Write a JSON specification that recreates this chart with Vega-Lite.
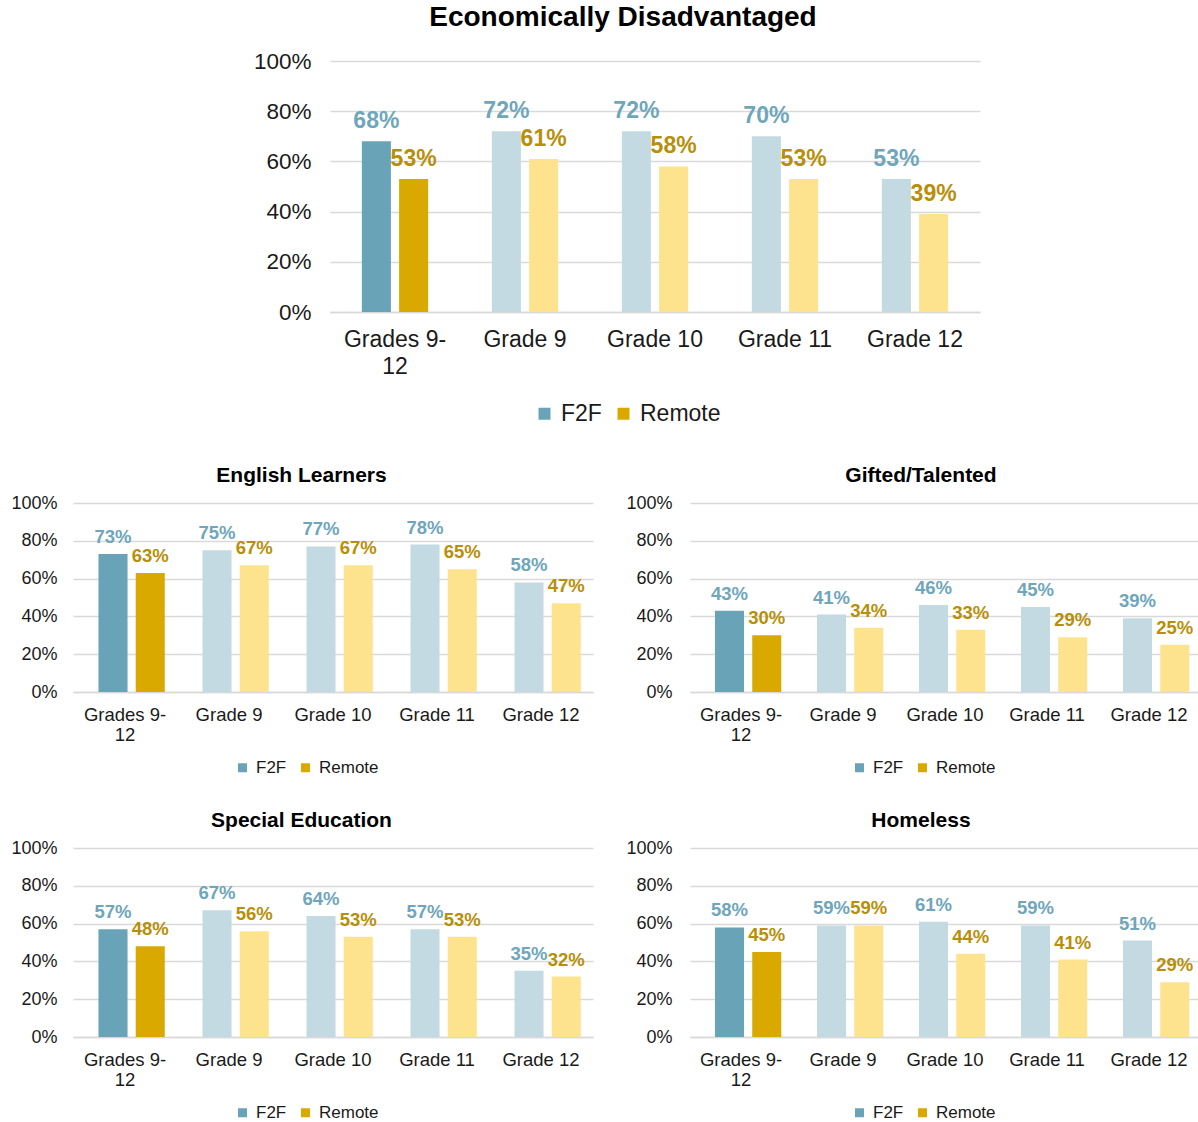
{
  "$schema": "https://vega.github.io/schema/vega-lite/v6.json",
  "padding": {"left": 10, "top": 4, "right": 0, "bottom": 0},
  "background": "white",
  "config": {"view": {"stroke": null}, "font": "Liberation Sans"},
  "datasets": {
    "rates": [
      {"chart": "Economically Disadvantaged", "grade": "Grades 9-12", "mode": "F2F", "value": 0.68},
      {"chart": "Economically Disadvantaged", "grade": "Grades 9-12", "mode": "Remote", "value": 0.53},
      {"chart": "Economically Disadvantaged", "grade": "Grade 9", "mode": "F2F", "value": 0.72},
      {"chart": "Economically Disadvantaged", "grade": "Grade 9", "mode": "Remote", "value": 0.61},
      {"chart": "Economically Disadvantaged", "grade": "Grade 10", "mode": "F2F", "value": 0.72},
      {"chart": "Economically Disadvantaged", "grade": "Grade 10", "mode": "Remote", "value": 0.58},
      {"chart": "Economically Disadvantaged", "grade": "Grade 11", "mode": "F2F", "value": 0.70},
      {"chart": "Economically Disadvantaged", "grade": "Grade 11", "mode": "Remote", "value": 0.53},
      {"chart": "Economically Disadvantaged", "grade": "Grade 12", "mode": "F2F", "value": 0.53},
      {"chart": "Economically Disadvantaged", "grade": "Grade 12", "mode": "Remote", "value": 0.39},
      {"chart": "English Learners", "grade": "Grades 9-12", "mode": "F2F", "value": 0.73},
      {"chart": "English Learners", "grade": "Grades 9-12", "mode": "Remote", "value": 0.63},
      {"chart": "English Learners", "grade": "Grade 9", "mode": "F2F", "value": 0.75},
      {"chart": "English Learners", "grade": "Grade 9", "mode": "Remote", "value": 0.67},
      {"chart": "English Learners", "grade": "Grade 10", "mode": "F2F", "value": 0.77},
      {"chart": "English Learners", "grade": "Grade 10", "mode": "Remote", "value": 0.67},
      {"chart": "English Learners", "grade": "Grade 11", "mode": "F2F", "value": 0.78},
      {"chart": "English Learners", "grade": "Grade 11", "mode": "Remote", "value": 0.65},
      {"chart": "English Learners", "grade": "Grade 12", "mode": "F2F", "value": 0.58},
      {"chart": "English Learners", "grade": "Grade 12", "mode": "Remote", "value": 0.47},
      {"chart": "Gifted/Talented", "grade": "Grades 9-12", "mode": "F2F", "value": 0.43},
      {"chart": "Gifted/Talented", "grade": "Grades 9-12", "mode": "Remote", "value": 0.30},
      {"chart": "Gifted/Talented", "grade": "Grade 9", "mode": "F2F", "value": 0.41},
      {"chart": "Gifted/Talented", "grade": "Grade 9", "mode": "Remote", "value": 0.34},
      {"chart": "Gifted/Talented", "grade": "Grade 10", "mode": "F2F", "value": 0.46},
      {"chart": "Gifted/Talented", "grade": "Grade 10", "mode": "Remote", "value": 0.33},
      {"chart": "Gifted/Talented", "grade": "Grade 11", "mode": "F2F", "value": 0.45},
      {"chart": "Gifted/Talented", "grade": "Grade 11", "mode": "Remote", "value": 0.29},
      {"chart": "Gifted/Talented", "grade": "Grade 12", "mode": "F2F", "value": 0.39},
      {"chart": "Gifted/Talented", "grade": "Grade 12", "mode": "Remote", "value": 0.25},
      {"chart": "Special Education", "grade": "Grades 9-12", "mode": "F2F", "value": 0.57},
      {"chart": "Special Education", "grade": "Grades 9-12", "mode": "Remote", "value": 0.48},
      {"chart": "Special Education", "grade": "Grade 9", "mode": "F2F", "value": 0.67},
      {"chart": "Special Education", "grade": "Grade 9", "mode": "Remote", "value": 0.56},
      {"chart": "Special Education", "grade": "Grade 10", "mode": "F2F", "value": 0.64},
      {"chart": "Special Education", "grade": "Grade 10", "mode": "Remote", "value": 0.53},
      {"chart": "Special Education", "grade": "Grade 11", "mode": "F2F", "value": 0.57},
      {"chart": "Special Education", "grade": "Grade 11", "mode": "Remote", "value": 0.53},
      {"chart": "Special Education", "grade": "Grade 12", "mode": "F2F", "value": 0.35},
      {"chart": "Special Education", "grade": "Grade 12", "mode": "Remote", "value": 0.32},
      {"chart": "Homeless", "grade": "Grades 9-12", "mode": "F2F", "value": 0.58},
      {"chart": "Homeless", "grade": "Grades 9-12", "mode": "Remote", "value": 0.45},
      {"chart": "Homeless", "grade": "Grade 9", "mode": "F2F", "value": 0.59},
      {"chart": "Homeless", "grade": "Grade 9", "mode": "Remote", "value": 0.59},
      {"chart": "Homeless", "grade": "Grade 10", "mode": "F2F", "value": 0.61},
      {"chart": "Homeless", "grade": "Grade 10", "mode": "Remote", "value": 0.44},
      {"chart": "Homeless", "grade": "Grade 11", "mode": "F2F", "value": 0.59},
      {"chart": "Homeless", "grade": "Grade 11", "mode": "Remote", "value": 0.41},
      {"chart": "Homeless", "grade": "Grade 12", "mode": "F2F", "value": 0.51},
      {"chart": "Homeless", "grade": "Grade 12", "mode": "Remote", "value": 0.29}
    ]
  },
  "vconcat": [
    {
      "spacing": 20,
      "hconcat": [
        {
          "width": 160,
          "height": 10,
          "data": {"values": []},
          "mark": "point",
          "encoding": {}
        },
        {
          "data": {"name": "rates"},
          "title": {"text": "Economically Disadvantaged", "fontSize": 28, "fontWeight": "bold", "color": "#000", "font": "Liberation Sans", "baseline": "bottom", "offset": -10, "frame": "group", "dx": -32},
          "width": 650,
          "height": 251,
          "transform": [
            {"filter": "datum.chart === 'Economically Disadvantaged'"},
            {"calculate": "datum.grade === 'Grades 9-12' ? datum.mode : datum.mode + ' light'", "as": "key"}
          ],
          "encoding": {
            "x": {"field": "grade", "type": "nominal", "sort": ["Grades 9-12", "Grade 9", "Grade 10", "Grade 11", "Grade 12"], "scale": {"paddingInner": 0.49, "paddingOuter": 0.245},
              "axis": {"title": null, "labelAngle": 0, "labelFontSize": 23, "labelColor": "#1a1a1a", "labelPadding": 16, "labelLineHeight": 27, "ticks": false, "domainColor": "#d9d9d9", "domainWidth": 1.5, "labelExpr": "datum.value === 'Grades 9-12' ? ['Grades 9-', '12'] : datum.value"}},
            "xOffset": {"field": "mode", "type": "nominal", "scale": {"paddingInner": 0.22}},
            "y": {"field": "value", "type": "quantitative", "scale": {"domain": [0, 1]},
              "axis": {"title": null, "format": ".0%", "values": [0, 0.2, 0.4, 0.6, 0.8, 1], "labelFontSize": 22.5, "labelColor": "#1a1a1a", "labelPadding": 19, "ticks": false, "domain": false, "gridColor": "#d9d9d9", "gridWidth": 1.5}}
          },
          "layer": [
            {"mark": {"type": "bar"},
              "encoding": {"color": {"field": "key", "type": "nominal",
                "scale": {"domain": ["F2F", "Remote", "F2F light", "Remote light"], "range": ["#68a3b8", "#daa900", "#c3dae3", "#fee38e"]},
                "legend": {"values": ["F2F", "Remote"], "title": null, "orient": "none", "legendX": 460, "legendY": 341, "direction": "horizontal", "symbolType": "square", "symbolSize": 144, "symbolStrokeWidth": 0, "labelFontSize": 23, "labelColor": "#1a1a1a", "labelOffset": 5, "columnSpacing": 18}}}},
            {"mark": {"type": "text", "baseline": "alphabetic", "dy": -13, "fontSize": 23, "fontWeight": "bold"},
              "encoding": {"text": {"field": "value", "type": "quantitative", "format": ".0%"},
                "color": {"condition": {"test": "datum.mode === 'F2F'", "value": "#6fa6bc"}, "value": "#b88f0a"}}}
          ]
        }
      ]
    },
    {
      "spacing": 34,
      "vconcat": [
        {
          "spacing": 32,
          "hconcat": [
            {
              "data": {"name": "rates"},
              "title": {"text": "English Learners", "fontSize": 21, "fontWeight": "bold", "color": "#000", "font": "Liberation Sans", "baseline": "bottom", "offset": -13, "frame": "bounds"},
              "width": 520, "height": 189,
              "transform": [
                {"filter": "datum.chart === 'English Learners'"},
                {"calculate": "datum.grade === 'Grades 9-12' ? datum.mode : datum.mode + ' light'", "as": "key"}
              ],
              "encoding": {
                "x": {"field": "grade", "type": "nominal", "sort": ["Grades 9-12", "Grade 9", "Grade 10", "Grade 11", "Grade 12"], "scale": {"paddingInner": 0.49, "paddingOuter": 0.245},
                  "axis": {"title": null, "labelAngle": 0, "labelFontSize": 18.5, "labelColor": "#1a1a1a", "labelPadding": 13, "labelLineHeight": 20, "ticks": false, "domainColor": "#d9d9d9", "domainWidth": 1.5, "labelExpr": "datum.value === 'Grades 9-12' ? ['Grades 9-', '12'] : datum.value"}},
                "xOffset": {"field": "mode", "type": "nominal", "scale": {"paddingInner": 0.22}},
                "y": {"field": "value", "type": "quantitative", "scale": {"domain": [0, 1]},
                  "axis": {"title": null, "format": ".0%", "values": [0, 0.2, 0.4, 0.6, 0.8, 1], "labelFontSize": 18, "labelColor": "#1a1a1a", "labelPadding": 16, "ticks": false, "domain": false, "gridColor": "#d9d9d9", "gridWidth": 1.5, "minExtent": 63, "maxExtent": 63}}
              },
              "layer": [
                {"mark": {"type": "bar"},
                  "encoding": {"color": {"field": "key", "type": "nominal",
                    "scale": {"domain": ["F2F", "Remote", "F2F light", "Remote light"], "range": ["#68a3b8", "#daa900", "#c3dae3", "#fee38e"]},
                    "legend": {"values": ["F2F", "Remote"], "title": null, "orient": "none", "legendX": 161, "legendY": 256, "direction": "horizontal", "symbolType": "square", "symbolSize": 81, "symbolStrokeWidth": 0, "labelFontSize": 17, "labelColor": "#1a1a1a", "labelOffset": 5, "columnSpacing": 20}}}},
                {"mark": {"type": "text", "baseline": "alphabetic", "dy": -11, "fontSize": 18.5, "fontWeight": "bold"},
                  "encoding": {"text": {"field": "value", "type": "quantitative", "format": ".0%"},
                    "color": {"condition": {"test": "datum.mode === 'F2F'", "value": "#6fa6bc"}, "value": "#b88f0a"}}}
              ]
            },
            {
              "data": {"name": "rates"},
              "title": {"text": "Gifted/Talented", "fontSize": 21, "fontWeight": "bold", "color": "#000", "font": "Liberation Sans", "baseline": "bottom", "offset": -13, "frame": "bounds", "dx": 8},
              "width": 510, "height": 189,
              "transform": [
                {"filter": "datum.chart === 'Gifted/Talented'"},
                {"calculate": "datum.grade === 'Grades 9-12' ? datum.mode : datum.mode + ' light'", "as": "key"}
              ],
              "encoding": {
                "x": {"field": "grade", "type": "nominal", "sort": ["Grades 9-12", "Grade 9", "Grade 10", "Grade 11", "Grade 12"], "scale": {"paddingInner": 0.49, "paddingOuter": 0.245},
                  "axis": {"title": null, "labelAngle": 0, "labelFontSize": 18.5, "labelColor": "#1a1a1a", "labelPadding": 13, "labelLineHeight": 20, "ticks": false, "domainColor": "#d9d9d9", "domainWidth": 1.5, "labelExpr": "datum.value === 'Grades 9-12' ? ['Grades 9-', '12'] : datum.value"}},
                "xOffset": {"field": "mode", "type": "nominal", "scale": {"paddingInner": 0.22}},
                "y": {"field": "value", "type": "quantitative", "scale": {"domain": [0, 1]},
                  "axis": {"title": null, "format": ".0%", "values": [0, 0.2, 0.4, 0.6, 0.8, 1], "labelFontSize": 18, "labelColor": "#1a1a1a", "labelPadding": 18, "ticks": false, "domain": false, "gridColor": "#d9d9d9", "gridWidth": 1.5, "minExtent": 63, "maxExtent": 63}}
              },
              "layer": [
                {"mark": {"type": "bar"},
                  "encoding": {"color": {"field": "key", "type": "nominal",
                    "scale": {"domain": ["F2F", "Remote", "F2F light", "Remote light"], "range": ["#68a3b8", "#daa900", "#c3dae3", "#fee38e"]},
                    "legend": {"values": ["F2F", "Remote"], "title": null, "orient": "none", "legendX": 161, "legendY": 256, "direction": "horizontal", "symbolType": "square", "symbolSize": 81, "symbolStrokeWidth": 0, "labelFontSize": 17, "labelColor": "#1a1a1a", "labelOffset": 5, "columnSpacing": 20}}}},
                {"mark": {"type": "text", "baseline": "alphabetic", "dy": -11, "fontSize": 18.5, "fontWeight": "bold"},
                  "encoding": {"text": {"field": "value", "type": "quantitative", "format": ".0%"},
                    "color": {"condition": {"test": "datum.mode === 'F2F'", "value": "#6fa6bc"}, "value": "#b88f0a"}}}
              ]
            }
          ],
          "resolve": {"scale": {"color": "independent"}}
        },
        {
          "spacing": 32,
          "hconcat": [
            {
              "data": {"name": "rates"},
              "title": {"text": "Special Education", "fontSize": 21, "fontWeight": "bold", "color": "#000", "font": "Liberation Sans", "baseline": "bottom", "offset": -13, "frame": "bounds"},
              "width": 520, "height": 189,
              "transform": [
                {"filter": "datum.chart === 'Special Education'"},
                {"calculate": "datum.grade === 'Grades 9-12' ? datum.mode : datum.mode + ' light'", "as": "key"}
              ],
              "encoding": {
                "x": {"field": "grade", "type": "nominal", "sort": ["Grades 9-12", "Grade 9", "Grade 10", "Grade 11", "Grade 12"], "scale": {"paddingInner": 0.49, "paddingOuter": 0.245},
                  "axis": {"title": null, "labelAngle": 0, "labelFontSize": 18.5, "labelColor": "#1a1a1a", "labelPadding": 13, "labelLineHeight": 20, "ticks": false, "domainColor": "#d9d9d9", "domainWidth": 1.5, "labelExpr": "datum.value === 'Grades 9-12' ? ['Grades 9-', '12'] : datum.value"}},
                "xOffset": {"field": "mode", "type": "nominal", "scale": {"paddingInner": 0.22}},
                "y": {"field": "value", "type": "quantitative", "scale": {"domain": [0, 1]},
                  "axis": {"title": null, "format": ".0%", "values": [0, 0.2, 0.4, 0.6, 0.8, 1], "labelFontSize": 18, "labelColor": "#1a1a1a", "labelPadding": 16, "ticks": false, "domain": false, "gridColor": "#d9d9d9", "gridWidth": 1.5, "minExtent": 63, "maxExtent": 63}}
              },
              "layer": [
                {"mark": {"type": "bar"},
                  "encoding": {"color": {"field": "key", "type": "nominal",
                    "scale": {"domain": ["F2F", "Remote", "F2F light", "Remote light"], "range": ["#68a3b8", "#daa900", "#c3dae3", "#fee38e"]},
                    "legend": {"values": ["F2F", "Remote"], "title": null, "orient": "none", "legendX": 161, "legendY": 256, "direction": "horizontal", "symbolType": "square", "symbolSize": 81, "symbolStrokeWidth": 0, "labelFontSize": 17, "labelColor": "#1a1a1a", "labelOffset": 5, "columnSpacing": 20}}}},
                {"mark": {"type": "text", "baseline": "alphabetic", "dy": -11, "fontSize": 18.5, "fontWeight": "bold"},
                  "encoding": {"text": {"field": "value", "type": "quantitative", "format": ".0%"},
                    "color": {"condition": {"test": "datum.mode === 'F2F'", "value": "#6fa6bc"}, "value": "#b88f0a"}}}
              ]
            },
            {
              "data": {"name": "rates"},
              "title": {"text": "Homeless", "fontSize": 21, "fontWeight": "bold", "color": "#000", "font": "Liberation Sans", "baseline": "bottom", "offset": -13, "frame": "bounds", "dx": 8},
              "width": 510, "height": 189,
              "transform": [
                {"filter": "datum.chart === 'Homeless'"},
                {"calculate": "datum.grade === 'Grades 9-12' ? datum.mode : datum.mode + ' light'", "as": "key"}
              ],
              "encoding": {
                "x": {"field": "grade", "type": "nominal", "sort": ["Grades 9-12", "Grade 9", "Grade 10", "Grade 11", "Grade 12"], "scale": {"paddingInner": 0.49, "paddingOuter": 0.245},
                  "axis": {"title": null, "labelAngle": 0, "labelFontSize": 18.5, "labelColor": "#1a1a1a", "labelPadding": 13, "labelLineHeight": 20, "ticks": false, "domainColor": "#d9d9d9", "domainWidth": 1.5, "labelExpr": "datum.value === 'Grades 9-12' ? ['Grades 9-', '12'] : datum.value"}},
                "xOffset": {"field": "mode", "type": "nominal", "scale": {"paddingInner": 0.22}},
                "y": {"field": "value", "type": "quantitative", "scale": {"domain": [0, 1]},
                  "axis": {"title": null, "format": ".0%", "values": [0, 0.2, 0.4, 0.6, 0.8, 1], "labelFontSize": 18, "labelColor": "#1a1a1a", "labelPadding": 18, "ticks": false, "domain": false, "gridColor": "#d9d9d9", "gridWidth": 1.5, "minExtent": 63, "maxExtent": 63}}
              },
              "layer": [
                {"mark": {"type": "bar"},
                  "encoding": {"color": {"field": "key", "type": "nominal",
                    "scale": {"domain": ["F2F", "Remote", "F2F light", "Remote light"], "range": ["#68a3b8", "#daa900", "#c3dae3", "#fee38e"]},
                    "legend": {"values": ["F2F", "Remote"], "title": null, "orient": "none", "legendX": 161, "legendY": 256, "direction": "horizontal", "symbolType": "square", "symbolSize": 81, "symbolStrokeWidth": 0, "labelFontSize": 17, "labelColor": "#1a1a1a", "labelOffset": 5, "columnSpacing": 20}}}},
                {"mark": {"type": "text", "baseline": "alphabetic", "dy": -11, "fontSize": 18.5, "fontWeight": "bold"},
                  "encoding": {"text": {"field": "value", "type": "quantitative", "format": ".0%"},
                    "color": {"condition": {"test": "datum.mode === 'F2F'", "value": "#6fa6bc"}, "value": "#b88f0a"}}}
              ]
            }
          ],
          "resolve": {"scale": {"color": "independent"}}
        }
      ],
      "resolve": {"scale": {"color": "independent"}}
    }
  ],
  "spacing": 39,
  "resolve": {"scale": {"color": "independent"}}
}
